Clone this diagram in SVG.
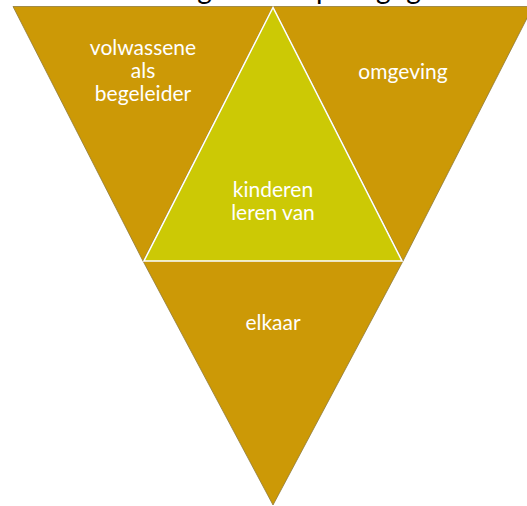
<svg xmlns="http://www.w3.org/2000/svg" width="527" height="506" viewBox="0 0 527 506">
<style>
.tri{fill:#CC9906;stroke:#8f7a3a;stroke-width:0.8;stroke-linejoin:miter}
.mid{fill:#CCC905;stroke:#ffffff;stroke-width:1.5}
.lbl{font-family:Lato,"Liberation Sans",sans-serif;font-size:21px;fill:#ffffff;text-anchor:middle}
.title{font-family:Lato,"Liberation Sans",sans-serif;font-size:28px;fill:#000000}
</style>
<rect width="527" height="506" fill="#ffffff"/>
<text class="title" x="158" y="-1.5">Volgens drie pedagogen</text>
<g id="node-volwassene">
<polygon class="tri" points="13,6.5 273,6.5 143,261"/>
<text class="lbl" x="143" y="55">volwassene</text>
<text class="lbl" x="143" y="78">als</text>
<text class="lbl" x="143" y="101">begeleider</text>
</g>
<g id="node-omgeving">
<polygon class="tri" points="273,6.5 533,6.5 403,261"/>
<text class="lbl" x="403" y="79">omgeving</text>
</g>
<g id="node-elkaar">
<polygon class="tri" points="143,261 403,261 273,505"/>
<text class="lbl" x="273" y="330">elkaar</text>
</g>
<g id="node-kinderen">
<polygon class="mid" points="273,7.5 144,261 402,261"/>
<text class="lbl" x="273" y="197">kinderen</text>
<text class="lbl" x="273" y="220">leren van</text>
</g>
<g id="connectors"></g>
</svg>
